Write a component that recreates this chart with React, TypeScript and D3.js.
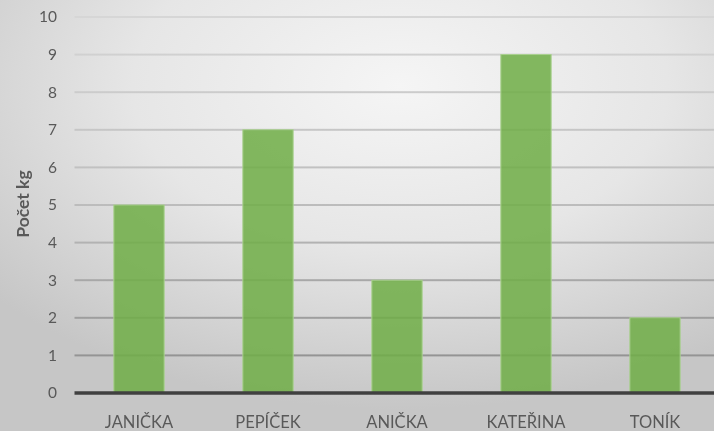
import React from 'react';
import * as d3 from 'd3';

// chart data
const categories = ['JANIČKA', 'PEPÍČEK', 'ANIČKA', 'KATEŘINA', 'TONÍK'];
const values = [5, 7, 3, 9, 2];
const yTicks = [0, 1, 2, 3, 4, 5, 6, 7, 8, 9, 10];
const yTitle = 'Počet kg';

const W = 714;
const H = 431;

const App = () => {
  const left = 74.5;
  const plotTop = 17;
  const plotBottom = 393;

  const x = d3.scaleBand()
    .domain(categories)
    .range([left, left + 645])
    .paddingInner(0.61)
    .paddingOuter(0.305);

  const y = d3.scaleLinear()
    .domain([0, 10])
    .range([plotBottom, plotTop]);

  const font = 'Lato, "Open Sans", sans-serif';

  return (
    <svg width={W} height={H} style={{ position: 'fixed', left: 0, top: 0 }}>
      <defs>
        <radialGradient id="bg" cx="0.56" cy="0.2" r="0.75" fx="0.56" fy="0.2">
          <stop offset="0" stopColor="#f5f5f5" />
          <stop offset="0.5" stopColor="#e6e6e6" />
          <stop offset="1" stopColor="#c6c6c6" />
        </radialGradient>
        <linearGradient id="grid" gradientUnits="userSpaceOnUse" x1="0" y1={plotTop} x2="0" y2={plotBottom}>
          <stop offset="0" stopColor="#d6d6d6" />
          <stop offset="0.5" stopColor="#bcbcbc" />
          <stop offset="1" stopColor="#8a8a8a" />
        </linearGradient>
      </defs>
      <rect x={0} y={0} width={W} height={H} fill="url(#bg)" />

      {/* gridlines */}
      {yTicks.filter(t => t > 0).map(t => (
        <rect key={t} x={left} y={y(t) - 1} width={W - left} height={2} fill="url(#grid)" />
      ))}

      {/* bars */}
      {categories.map((c, i) => (
        <rect
          key={c}
          x={x(c)}
          y={y(values[i])}
          width={x.bandwidth()}
          height={y(0) - y(values[i])}
          fill="#70ad47"
          fillOpacity={0.86}
          stroke="#a9d18e"
          strokeWidth={1}
        />
      ))}

      {/* x axis line */}
      <line x1={left} x2={W} y1={plotBottom} y2={plotBottom} stroke="#404040" strokeWidth={3.5} />

      {/* y tick labels */}
      {yTicks.map(t => (
        <text key={t} x={57} y={y(t)} dy="0.35em" textAnchor="end" fontSize={15.5} fill="#595959" fontFamily={font}>
          {t}
        </text>
      ))}

      {/* x labels */}
      {categories.map(c => (
        <text key={c} x={(x(c) ?? 0) + x.bandwidth() / 2} y={428} textAnchor="middle" fontSize={16.5} fill="#595959" fontFamily={font}>
          {c}
        </text>
      ))}

      {/* y title */}
      <text
        transform={`translate(29, 204) rotate(-90)`}
        textAnchor="middle"
        fontSize={17.5}
        fontWeight="bold"
        fill="#595959"
        fontFamily={font}
      >
        {yTitle}
      </text>
    </svg>
  );
};

export default App;
